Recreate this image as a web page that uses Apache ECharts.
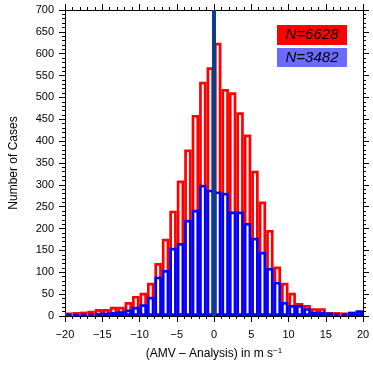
<!DOCTYPE html>
<html>
<head>
<meta charset="utf-8">
<script src="https://cdn.jsdelivr.net/npm/echarts@6/dist/echarts.min.js"></script>
<style>
  html, body { margin: 0; padding: 0; background: #fff; }
  #chart { width: 373px; height: 367px; }
</style>
</head>
<body>
<div id="chart"></div>
<script>
// bin left edges, -20 .. 19 (width 1 m/s)
const binStarts = [
  -20, -19, -18, -17, -16, -15, -14, -13, -12, -11,
  -10, -9, -8, -7, -6, -5, -4, -3, -2, -1,
  0, 1, 2, 3, 4, 5, 6, 7, 8, 9,
  10, 11, 12, 13, 14, 15, 16, 17, 18, 19
];

// N=6628
const redCounts = [
  8, 9, 10, 12, 16, 16, 21, 21, 32, 46,
  53, 76, 121, 177, 241, 310, 381, 460, 536, 569,
  625, 519, 512, 466, 415, 332, 262, 197, 113, 76,
  53, 30, 25, 18, 18, 9, 9, 8, 8, 8
];

// N=3482
const blueCounts = [
  6, 4, 5, 6, 7, 8, 9, 11, 15, 21,
  27, 44, 90, 105, 156, 167, 220, 243, 300, 289,
  285, 282, 239, 239, 213, 179, 147, 110, 78, 32,
  25, 25, 18, 10, 10, 8, 6, 6, 10, 13
];

const legendTexts = ["N=6628", "N=3482"];
const xTitle = "(AMV \u2013 Analysis) in m s{sup|\u22121}";
const yTitle = "Number of Cases";

const chart = echarts.init(document.getElementById("chart"));

const font = "Liberation Sans, Arial, sans-serif";

const frameAxis = {
  type: "value",
  axisLine: { show: true, onZero: false, lineStyle: { color: "#000", width: 1 } },
  axisTick: { show: true, inside: false, length: 6, lineStyle: { color: "#000" } },
  minorTick: { show: true, splitNumber: 5, length: 3, lineStyle: { color: "#000" } },
  splitLine: { show: false },
  minorSplitLine: { show: false },
};

const option = {
  backgroundColor: "#fff",
  animation: false,
  grid: { left: 62, right: 10, top: 10, bottom: 51 },
  xAxis: [
    {
      ...frameAxis,
      position: "bottom",
      min: -20, max: 20, interval: 5,
      axisLabel: {
        color: "#000", fontFamily: font, fontSize: 11, margin: 13,
        formatter: (v) => (v < 0 ? "\u2212" + Math.abs(v) : String(v)),
      },
      name: xTitle,
      nameLocation: "middle",
      nameGap: 31,
      nameTextStyle: {
        color: "#000", fontFamily: font, fontSize: 12,
        rich: { sup: { fontSize: 8, verticalAlign: "top", padding: [0, 0, 6, 0], fontFamily: font, color: "#000" } },
      },
    },
    {
      ...frameAxis,
      position: "top",
      min: -20, max: 20, interval: 5,
      axisLabel: { show: false },
    },
    {
      type: "category",
      data: binStarts,
      show: false,
      boundaryGap: true,
    },
  ],
  yAxis: [
    {
      ...frameAxis,
      position: "left",
      min: 0, max: 700, interval: 50,
      axisLabel: { color: "#000", fontFamily: font, fontSize: 11, margin: 11 },
      name: yTitle,
      nameLocation: "middle",
      nameGap: 45,
      nameRotate: 90,
      nameTextStyle: { color: "#000", fontFamily: font, fontSize: 12 },
    },
    {
      ...frameAxis,
      position: "right",
      min: 0, max: 700, interval: 50,
      axisLabel: { show: false },
    },
  ],
  series: [
    {
      type: "bar",
      xAxisIndex: 2,
      yAxisIndex: 0,
      data: redCounts,
      barWidth: "100%",
      barGap: "-100%",
      itemStyle: { color: "#fff", borderColor: "#ff0000", borderWidth: 2.7 },
      z: 2,
    },
    {
      type: "bar",
      xAxisIndex: 2,
      yAxisIndex: 0,
      data: blueCounts,
      barWidth: "100%",
      barGap: "-100%",
      itemStyle: { color: "#fff", borderColor: "#0000ff", borderWidth: 2.7 },
      z: 3,
    },
    {
      type: "line",
      xAxisIndex: 0,
      yAxisIndex: 0,
      data: [[0, 0], [0, 700]],
      symbol: "none",
      lineStyle: { color: "#0b3f8c", width: 4 },
      z: 5,
    },
  ],
  graphic: [
    {
      type: "rect",
      shape: { x: 277, y: 25, width: 70, height: 20 },
      style: { fill: "#ff0000" },
      z: 10,
    },
    {
      type: "text",
      x: 312, y: 35,
      style: {
        text: legendTexts[0], fill: "#000", font: "italic 15px " + font,
        textAlign: "center", textVerticalAlign: "middle",
      },
      z: 11,
    },
    {
      type: "rect",
      shape: { x: 277, y: 48, width: 70, height: 19 },
      style: { fill: "#6b6bff" },
      z: 10,
    },
    {
      type: "text",
      x: 312, y: 58,
      style: {
        text: legendTexts[1], fill: "#000", font: "italic 15px " + font,
        textAlign: "center", textVerticalAlign: "middle",
      },
      z: 11,
    },
  ],
};

chart.setOption(option);
</script>
</body>
</html>
